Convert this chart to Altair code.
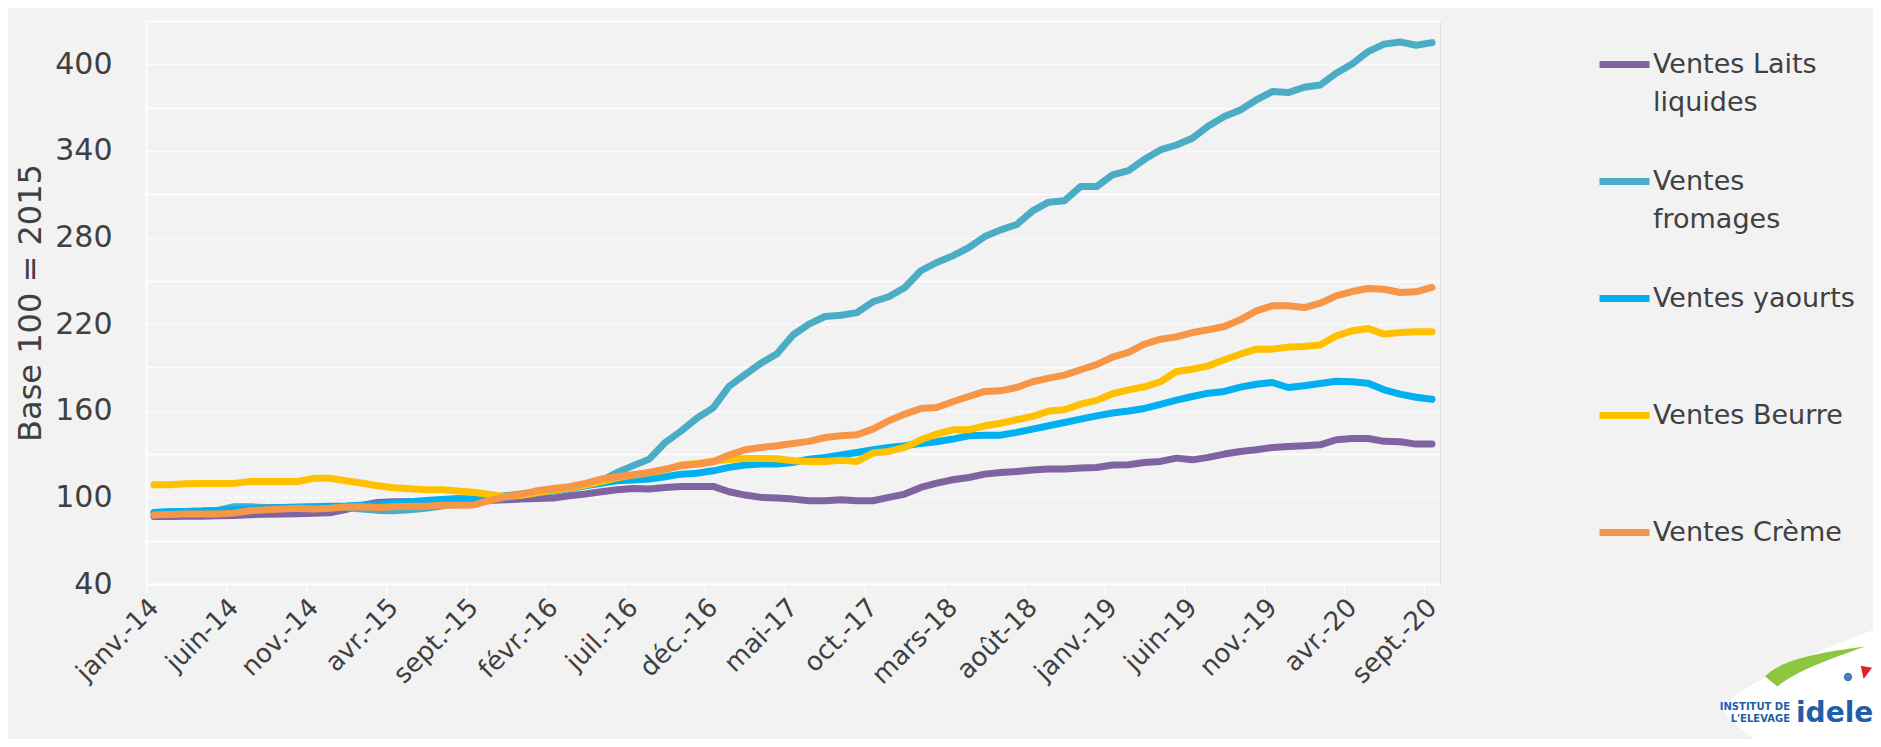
import altair as alt
import pandas as pd

# ---------------- data ----------------
month_names = ["janv.", "févr.", "mars", "avr.", "mai", "juin", "juil.", "août",
               "sept.", "oct.", "nov.", "déc."]
years = ["14", "15", "16", "17", "18", "19", "20"]
months = [f"{m}-{y}" for y in years for m in month_names][:81]
tick_labels = months[::5]

laits = [86.8, 86.8, 87.0, 87.0, 87.3, 87.5, 88.0, 88.3, 88.5, 88.7, 89.0, 89.3, 91.5, 94.5, 96.5, 97.0, 97.2, 97.2, 97.0, 97.2, 97.5, 97.8, 98.3,
         98.8, 99.2, 99.5, 101.1, 102.3, 103.9, 105.3, 106.2, 105.8, 106.9, 107.6, 107.6, 107.6, 103.9, 101.6, 100.0, 99.5, 98.8,
         97.7, 97.7, 98.4, 97.7, 97.7, 100.0, 102.3, 106.9, 109.9, 112.2, 113.8, 116.1, 117.3, 118.0, 118.9, 119.6, 119.6, 120.3, 120.7, 122.4,
         122.6, 124.2, 124.9, 127.2, 126.0, 127.7, 130.0, 131.8, 133.0, 134.6, 135.3, 135.8, 136.4, 139.9, 140.8, 140.8, 138.8, 138.5, 136.9, 136.9]

fromages = [89.5, 90.0, 90.3, 90.5, 91.0, 93.5, 93.5, 93.0, 93.0, 93.0, 93.3, 93.5, 93.0, 92.0, 91.0, 90.8, 91.5, 92.5, 94.0,
            95.5, 97.0, 98.5, 100.0, 101.5, 103.0, 104.5, 106.5, 109.0,
            111.5, 117.3, 122.0, 126.5, 138.0, 146.0, 155.0, 162.0, 177.0, 185.0, 193.0, 199.5, 212.5,
            220.0, 225.3, 226.2, 228.0, 235.5, 239.0, 245.4, 257.0, 262.7, 267.3, 273.0, 280.7, 285.3, 289.0, 298.5, 304.5, 305.5, 315.3, 315.3, 323.4,
            326.4, 334.2, 340.7, 344.1, 348.8, 357.3, 363.8, 368.4, 375.3, 381.1, 380.4, 384.1, 385.7, 393.8, 400.2, 408.8, 414.0, 415.5, 413.2, 415.0]

yaourts = [89.5, 90.0, 90.3, 90.5, 91.0, 91.5, 92.0, 92.5, 93.0, 93.3, 93.5, 93.8, 94.0, 94.5, 95.0, 96.0, 97.0, 97.8, 98.5,
           99.3, 98.8, 100.0, 101.1, 102.3, 103.4, 104.6, 106.2, 108.0, 109.7, 111.5, 112.0, 112.7, 114.3, 116.1, 116.8, 118.4, 120.8, 122.4, 123.1, 123.1, 124.2,
           126.5, 127.7, 129.3, 131.1, 133.0, 134.6, 135.8, 137.4, 138.5, 140.4, 142.7, 143.1, 143.1, 145.0, 147.3, 149.6, 151.9, 154.2, 156.5, 158.5,
           159.8, 161.6, 164.4, 167.4, 169.9, 172.2, 173.4, 176.4, 178.4, 179.6, 176.1, 177.3, 178.9, 180.5, 180.1, 179.1, 174.5, 171.5, 169.4, 168.0]

beurre = [108.8, 108.8, 109.5, 109.7, 109.7, 109.7, 111.0, 111.0, 111.0, 111.0, 113.2, 113.2, 111.5, 110.0, 108.0, 106.7, 106.0, 105.3, 105.3, 104.4, 103.5, 102.0, 100.7,
          101.5, 103.3, 105.0, 106.5, 108.5, 111.0, 113.5, 115.5, 117.0, 119.0, 122.6, 123.5, 125.0, 126.3, 127.0, 127.0, 126.8, 125.4,
          124.9, 124.9, 125.8, 124.9, 130.7, 131.8, 134.6, 139.9, 143.8, 146.8, 146.8, 149.6, 151.4, 153.8, 156.1, 159.8, 160.7, 164.6, 167.2, 171.8,
          174.5, 176.6, 180.1, 187.2, 188.8, 191.1, 195.3, 199.2, 202.7, 202.7, 204.1, 204.5, 205.5, 211.9, 215.4, 217.0, 213.1, 214.2, 214.7, 214.7]

creme = [87.8, 88.2, 88.5, 88.5, 88.5, 89.1, 90.8, 91.5, 92.0, 92.4, 92.0, 92.4, 93.3, 93.5, 93.0, 93.5, 93.8, 93.8, 94.5, 94.6, 94.8, 97.7, 100.5,
         102.3, 104.6, 106.2, 107.4, 109.7, 112.7, 114.3, 115.7, 117.3, 119.6, 121.9, 123.0, 124.7, 129.3, 133.0, 134.6, 135.8, 137.3,
         138.8, 141.5, 142.7, 143.4, 147.3, 153.1, 157.7, 161.6, 162.3, 166.2, 169.9, 173.4, 173.8, 176.1, 180.1, 182.6, 184.7, 188.4, 192.0, 197.2,
         200.4, 206.1, 209.6, 211.2, 214.2, 216.1, 218.4, 223.0, 229.2, 232.7, 232.7, 231.5, 234.5, 239.6, 242.6, 244.7, 244.2, 241.9, 242.4, 245.4]

series_names = ["Ventes Laits liquides", "Ventes fromages", "Ventes yaourts",
                "Ventes Beurre", "Ventes Crème"]
series_colors = ["#8064A2", "#4BACC6", "#00B0F0", "#FFC000", "#F79646"]
series_values = [laits, fromages, yaourts, beurre, creme]

y_ticks = list(range(40, 431, 30))

rows = []
for name, vals in zip(series_names, series_values):
    assert len(vals) == len(months), (name, len(vals))
    for m, v in zip(months, vals):
        rows.append({"month": m, "series": name, "value": v})
df = pd.DataFrame(rows)

# ---------------- style ----------------
FONT = "DejaVu Sans"
TXT = "#404040"
BG = "#F2F2F2"
BLUE_LOGO = "#1F5EA8"
PLOT_W, PLOT_H = 1294, 563
STEP = PLOT_W / len(months)

x_enc = alt.X(
    "month:O",
    sort=months,
    scale=alt.Scale(type="point", padding=0.5, domain=months),
    axis=alt.Axis(
        values=tick_labels, labelAngle=-45, labelAlign="right", labelBaseline="middle",
        labelFont=FONT, labelFontSize=26, labelColor=TXT, labelPadding=10,
        labelOverlap=False, tickColor="white", tickSize=9, tickWidth=1.5,
        tickOffset=-STEP / 2, labelOffset=STEP / 2,
        domainColor="white", domainWidth=2, grid=False,
    ),
    title=None,
)

y_enc = alt.Y(
    "value:Q",
    scale=alt.Scale(domain=[40, 430], nice=False, zero=False),
    axis=alt.Axis(
        values=y_ticks,
        labelExpr="datum.value % 60 == 40 ? datum.label : ''",
        labelFont=FONT, labelFontSize=30, labelColor=TXT, labelPadding=34,
        ticks=False, domainColor="white", domainWidth=2,
        grid=True, gridColor="white", gridWidth=1.5,
        gridDash={"condition": {"test": "datum.value % 60 == 40", "value": [5, 3]}, "value": []},
        titleFont=FONT, titleFontSize=32, titleColor=TXT, titleFontWeight="normal",
        titlePadding=7,
    ),
    title="Base 100 = 2015",
)

color_enc = alt.Color(
    "series:N",
    scale=alt.Scale(domain=series_names, range=series_colors),
    legend=alt.Legend(
        title=None, orient="none", legendX=1450, legendY=15, direction="vertical",
        symbolType="stroke", symbolSize=2500, symbolStrokeWidth=7,
        labelFont=FONT, labelFontSize=27, labelColor=TXT, labelOffset=0,
        labelLimit=500, rowPadding=37,
        labelExpr="datum.label == 'Ventes Laits liquides' ? ['Ventes Laits', 'liquides'] : "
                  "datum.label == 'Ventes fromages' ? ['Ventes', 'fromages'] : [datum.label, ' ']",
    ),
)

layers = []
for name in series_names:
    layers.append(
        alt.Chart(df)
        .transform_filter(alt.datum.series == name)
        .mark_line(strokeWidth=7, strokeCap="round", strokeJoin="round")
        .encode(x=x_enc, y=y_enc, color=color_enc)
    )

one = df.head(1)
blob_path = "M -0.78 0.08 C -0.6 -0.12 -0.1 -0.4 1.0 -0.8 L 1.0 0.6 L -0.2 0.6 C -0.45 0.4 -0.7 0.22 -0.78 0.08 Z"
leaf_path = "M -1 0.15 C -0.6 -0.25 0.3 -0.35 1 -0.45 C 0.3 -0.2 -0.4 0.05 -0.75 0.35 Z"
red_path = "M -0.6 -0.9 L 1 -0.6 L -0.2 1 Z"
logo = [
    alt.Chart(one).mark_point(shape=blob_path, size=40000, filled=True, color="white",
                              opacity=1, strokeWidth=0)
    .encode(x=alt.value(1654), y=alt.value(679)),
    alt.Chart(one).mark_point(shape=leaf_path, size=10000, filled=True, color="#8DC63F",
                              opacity=1, strokeWidth=0)
    .encode(x=alt.value(1669), y=alt.value(648)),
    alt.Chart(one).mark_point(shape=red_path, size=200, filled=True, color="#E4202E",
                              opacity=1, strokeWidth=0)
    .encode(x=alt.value(1719), y=alt.value(651)),
    alt.Chart(one).mark_point(shape="circle", size=70, filled=True, color="#4A7CC0",
                              opacity=1, strokeWidth=0)
    .encode(x=alt.value(1702), y=alt.value(656)),
    alt.Chart(one).mark_text(text="idele", font=FONT, fontSize=28, fontWeight="bold",
                             color=BLUE_LOGO, align="left", baseline="alphabetic")
    .encode(x=alt.value(1650), y=alt.value(701)),
    alt.Chart(one).mark_text(text="INSTITUT DE", font=FONT, fontSize=10, fontWeight="bold",
                             color=BLUE_LOGO, align="right", baseline="alphabetic")
    .encode(x=alt.value(1644), y=alt.value(689)),
    alt.Chart(one).mark_text(text="L'ELEVAGE", font=FONT, fontSize=10, fontWeight="bold",
                             color=BLUE_LOGO, align="right", baseline="alphabetic")
    .encode(x=alt.value(1644), y=alt.value(701)),
]

chart = (
    alt.layer(*layers, *logo)
    .properties(
        width=PLOT_W, height=PLOT_H,
        autosize=alt.AutoSizeParams(type="none"),
        padding={"left": 138, "top": 13, "right": 433, "bottom": 155},
        background=BG,
    )
    .configure_view(stroke=None)
    .configure(style={"guide-label": {"lineHeight": 38}})
)

chart.save("out.html", embed_options={"renderer": "svg", "actions": False})
